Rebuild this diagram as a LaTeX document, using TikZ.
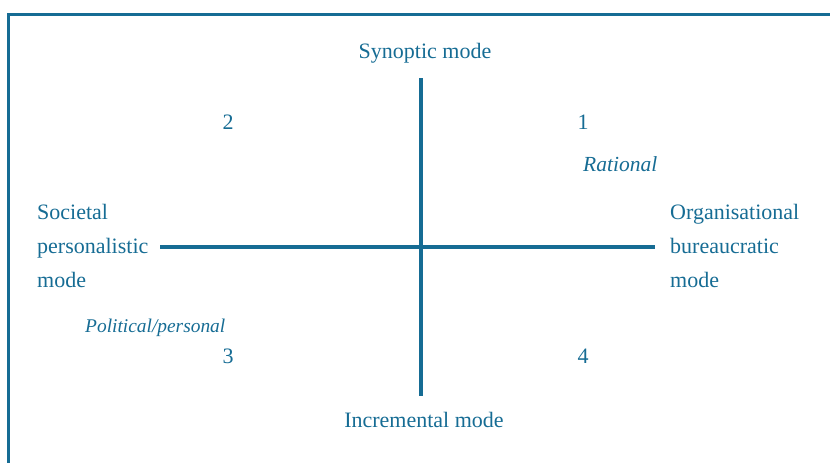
\documentclass[tikz,border=0pt]{standalone}
\usepackage{fontspec}
\setmainfont{Liberation Serif}
\definecolor{tealblue}{RGB}{22,108,148}
\begin{document}
\begin{tikzpicture}[x=1pt,y=-1pt,
  lbl/.style={text=tealblue,font=\fontsize{22}{34}\selectfont,inner sep=0pt,anchor=base},
  lblw/.style={lbl,anchor=base west},
  axis/.style={draw=tealblue,line width=3.2pt},
  frame/.style={draw=tealblue,line width=2.8pt}]
\useasboundingbox (0,0) rectangle (830,463);
% frame
\coordinate (fb) at (8.7,463);
\coordinate (fc) at (8.7,14.5);
\coordinate (fr) at (830,14.5);
\draw[frame] (fb) -- (fc) -- (fr);
% axes
\coordinate (top) at (421,78);
\coordinate (bot) at (421,396);
\coordinate (lft) at (160,247);
\coordinate (rgt) at (655,247);
\draw[axis] (top) -- (bot);
\draw[axis] (lft) -- (rgt);
% labels
\node[lbl] (syn) at (425,58) {Synoptic mode};
\node[lbl] (inc) at (424,427) {Incremental mode};
\node[lbl] (q2) at (228,129) {2};
\node[lbl] (q1) at (583,129) {1};
\node[lbl] (q3) at (228,363) {3};
\node[lbl] (q4) at (583,363) {4};
\node[lblw,font=\fontsize{21.5}{34}\itshape] (rat) at (583,171) {Rational};
\node[lblw,font=\fontsize{19.4}{34}\itshape] (pol) at (85,332) {Political/personal};
\node[lblw,align=left] (soc) at (37,287) {Societal\\personalistic\\mode};
\node[lblw,align=left] (org) at (670,287) {Organisational\\bureaucratic\\mode};
\end{tikzpicture}
\end{document}
